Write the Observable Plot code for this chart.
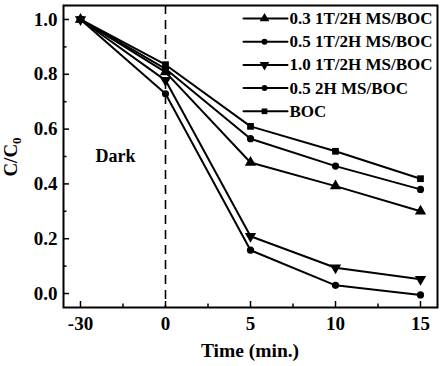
<!DOCTYPE html>
<html><head><meta charset="utf-8">
<script src="https://cdn.jsdelivr.net/npm/d3@7"></script>
<script src="https://cdn.jsdelivr.net/npm/@observablehq/plot@0.6"></script>
<style>body{margin:0;background:#fff}</style>
</head><body><div id="chart"></div>
<script>
const times = [-30, 0, 5, 10, 15];
const seriesNames = ["0.3 1T/2H MS/BOC", "0.5 1T/2H MS/BOC", "1.0 1T/2H MS/BOC", "0.5 2H MS/BOC", "BOC"];
const s03 = [1.0, 0.808, 0.478, 0.392, 0.300];
const s05 = [1.0, 0.820, 0.565, 0.465, 0.380];
const s10 = [1.0, 0.778, 0.209, 0.094, 0.052];
const s05_2H = [1.0, 0.729, 0.158, 0.030, -0.005];
const sBOC = [1.0, 0.835, 0.610, 0.519, 0.419];
const yTicks = [0, 0.2, 0.4, 0.6, 0.8, 1.0];
const yMinorTicks = [0.1, 0.3, 0.5, 0.7, 0.9];
const darkLabel = "Dark";
const xTitle = "Time (min.)";

const triangleDown = {
  draw(ctx, size) {
    const y = -Math.sqrt(size / (Math.sqrt(3) * 3));
    ctx.moveTo(0, -y * 2);
    ctx.lineTo(-Math.sqrt(3) * y, y);
    ctx.lineTo(Math.sqrt(3) * y, y);
    ctx.closePath();
  }
};
const seriesValues = [s03, s05, s10, s05_2H, sBOC];
const symbols = ["triangle", "circle", triangleDown, "circle", "square"];
const sizes = [4.2, 3.6, 4.2, 3.6, 3.8];

const rows = [];
seriesNames.forEach((name, k) => seriesValues[k].forEach((v, i) => rows.push({series: name, k, xi: i, t: times[i], v})));

const font = "Liberation Serif, Times New Roman, serif";
const lineShape = {draw(ctx, l) { ctx.moveTo(0, 0); ctx.lineTo(0, -l); }};

const marks = [
  Plot.ruleX([times.indexOf(0)], {stroke: "black", strokeWidth: 1.6, strokeDasharray: "9,6"}),
  Plot.line(rows, {x: "xi", y: "v", z: "series", stroke: "black", strokeWidth: 2}),
];
seriesNames.forEach((name, k) => {
  marks.push(Plot.dot(rows.filter(d => d.k === k), {x: "xi", y: "v", symbol: symbols[k], r: sizes[k], fill: "black", stroke: "none"}));
  const dy = 13 + k * 23.2;
  marks.push(Plot.vector([name], {frameAnchor: "top-left", dx: 180, dy, rotate: 90, length: 44, anchor: "start", shape: lineShape, stroke: "black", strokeWidth: 2}));
  marks.push(Plot.dot([name], {frameAnchor: "top-left", dx: 201, dy, symbol: symbols[k], r: sizes[k] - 0.6, fill: "black", stroke: "none"}));
  marks.push(Plot.text([name], {frameAnchor: "top-left", dx: 226, dy, text: d => d, textAnchor: "start", lineAnchor: "middle", fontSize: 17, fontWeight: "bold", fontFamily: font, fill: "black"}));
});
marks.push(
  Plot.text([darkLabel], {frameAnchor: "left", dx: 52, text: d => d, textAnchor: "middle", fontSize: 18, fontWeight: "bold", fontFamily: font, fill: "black"}),
  Plot.axisY(yTicks, {tickSize: -6, tickPadding: 12, tickFormat: d3.format(".1f"), fontSize: 19, fontWeight: "bold", fontFamily: font, label: null, strokeWidth: 1.5}),
  Plot.axisY(yMinorTicks, {tickSize: -3.5, tickFormat: () => "", label: null, strokeWidth: 1.5}),
  Plot.axisX(d3.range(times.length), {tickSize: -6, tickPadding: 15, tickFormat: i => times[i], fontSize: 19, fontWeight: "bold", fontFamily: font, label: null, strokeWidth: 1.5}),
  Plot.axisX(d3.range(times.length - 1).map(i => i + 0.5), {tickSize: -3.5, tickFormat: () => "", label: null, strokeWidth: 1.5}),
  Plot.frame({stroke: "black", strokeWidth: 2})
);

const chart = Plot.plot({
  width: 443, height: 366,
  marginLeft: 63, marginRight: 6, marginTop: 5, marginBottom: 59,
  style: {fontFamily: font, color: "black", background: "white"},
  x: {type: "linear", domain: [-0.2, 4.2]},
  y: {domain: [-0.051, 1.051]},
  marks
});
const svg = d3.select(chart);
const yl = svg.append("text")
  .attr("transform", "translate(17,157) rotate(-90)")
  .attr("text-anchor", "middle")
  .attr("font-family", font).attr("font-weight", "bold").attr("font-size", 19).attr("fill", "black");
yl.append("tspan").text("C/C");
yl.append("tspan").attr("dy", 4).attr("font-size", 13).text("0");
svg.append("text")
  .attr("x", 250).attr("y", 357)
  .attr("text-anchor", "middle")
  .attr("font-family", font).attr("font-weight", "bold").attr("font-size", 19.5).attr("fill", "black")
  .text(xTitle);
document.getElementById("chart").append(chart);
</script>
</body></html>
